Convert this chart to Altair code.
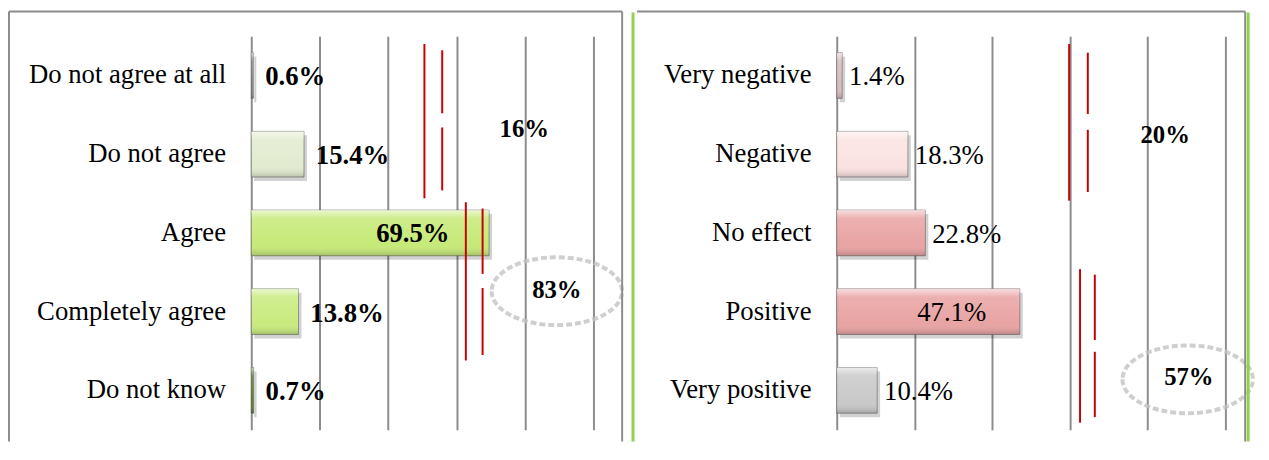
import altair as alt
import pandas as pd

# ---------------- data ----------------
left_cats = ["Do not agree at all", "Do not agree", "Agree", "Completely agree", "Do not know"]
left_vals = [0.6, 15.4, 69.5, 13.8, 0.7]
left_colors = ["#8e8e8e", "#e2ebcf", "#c6ea78", "#c8eb7e", "#5e7d2c"]

right_cats = ["Very negative", "Negative", "No effect", "Positive", "Very positive"]
right_vals = [1.4, 18.3, 22.8, 47.1, 10.4]
right_colors = ["#d8bcbc", "#fbe2e2", "#e9a3a3", "#e9a3a3", "#c9c9c9"]

grid_ticks = [0, 20, 40, 60, 80, 100]

# bracket annotations: x in %, y in row units (row 1 = first category)
left_br_x = [50.6, 55.8, 55.8, 62.7, 67.6, 67.6]
left_br_y1 = [0.60, 0.68, 1.66, 2.61, 2.69, 3.70]
left_br_y2 = [2.56, 1.48, 2.46, 4.62, 3.52, 4.55]
left_tot_text = ["16%", "83%"]
left_tot_x = [79.8, 89.3]
left_tot_y = [1.68, 3.72]
left_ring_x = [89.3]
left_ring_y = [3.74]

right_br_x = [59.8, 64.6, 64.6, 62.6, 66.4, 66.4]
right_br_y1 = [0.60, 0.71, 1.69, 3.46, 3.53, 4.51]
right_br_y2 = [2.59, 1.49, 2.48, 5.41, 4.36, 5.34]
right_tot_text = ["20%", "57%"]
right_tot_x = [84.5, 90.6]
right_tot_y = [1.76, 4.83]
right_ring_x = [90.3]
right_ring_y = [4.86]

FONT = "Liberation Serif"
GRID = "#8c8c8c"
RED = "#c80000"
GREEN = "#92d050"
ELLIPSE = "M-1,0A1,0.52,0,1,0,1,0A1,0.52,0,1,0,-1,0"


def frame_rule(color, width, **enc):
    return alt.Chart(alt.Data(values=[{}])).mark_rule(color=color, strokeWidth=width).encode(**enc)


def panel(cats, vals, colors, weight, in_dx, out_dx, br_x, br_y1, br_y2,
          tot_text, tot_x, tot_y, ring_x, ring_y, frames, w, h):
    df = pd.DataFrame({"cat": cats, "val": vals})
    xsc = alt.Scale(domain=[0, 100], nice=False, zero=True)
    xax = alt.Axis(values=grid_ticks, grid=True, gridColor=GRID, gridWidth=2,
                   labels=False, ticks=False, domain=False, title=None)
    ysc = alt.Scale(domain=cats, paddingInner=0.42, paddingOuter=0.21)
    yax = alt.Axis(title=None, ticks=False, domain=False, grid=False,
                   labelFont=FONT, labelFontSize=27, labelColor="black",
                   labelPadding=26, labelLimit=400)
    X = alt.X("val:Q", scale=xsc, axis=xax)
    Y = alt.Y("cat:N", scale=ysc, axis=yax, sort=None)
    base = alt.Chart(df)

    shadow = base.mark_bar(color="black", opacity=0.18, xOffset=3, x2Offset=3,
                           yOffset=4, y2Offset=4).encode(x=X, y=Y)
    bars = base.mark_bar(stroke="#555555", strokeWidth=1, strokeOpacity=0.55).encode(
        x=X, y=Y,
        color=alt.Color("cat:N", scale=alt.Scale(domain=cats, range=colors), legend=None))
    gloss = base.mark_bar(color=alt.Gradient(
        gradient="linear", x1=0, x2=0, y1=0, y2=1,
        stops=[alt.GradientStop(color="rgba(255,255,255,0.65)", offset=0),
               alt.GradientStop(color="rgba(255,255,255,0.15)", offset=0.18),
               alt.GradientStop(color="rgba(255,255,255,0)", offset=0.75),
               alt.GradientStop(color="rgba(0,0,0,0.18)", offset=1)])).encode(x=X, y=Y)
    lab = "format(datum.val, '.1f') + '%'"
    txt_out = base.transform_filter("datum.val < 40").transform_calculate(lab=lab).mark_text(
        align="left", baseline="middle", dx=out_dx, dy=2, font=FONT, fontSize=27,
        fontWeight=weight, color="black").encode(x=X, y=Y, text="lab:N")
    txt_in = base.transform_filter("datum.val >= 40").transform_calculate(lab=lab).mark_text(
        align="right", baseline="middle", dx=in_dx, dy=1, font=FONT, fontSize=27,
        fontWeight=weight, color="black").encode(x=X, y=Y, text="lab:N")
    inner = alt.layer(shadow, bars, gloss, txt_out, txt_in)

    ysc_n = alt.Scale(domain=[0.5, 5.5], reverse=True, nice=False, zero=False)
    br = pd.DataFrame({"bx": br_x, "y1": br_y1, "y2": br_y2})
    rules = alt.Chart(br).mark_rule(color=RED, strokeWidth=2).encode(
        x=alt.X("bx:Q", scale=xsc, axis=xax),
        y=alt.Y("y1:Q", scale=ysc_n, axis=None), y2="y2:Q")
    ring = alt.Chart(pd.DataFrame({"rx": ring_x, "ry": ring_y})).mark_point(
        shape=ELLIPSE, size=132 * 132, filled=False, stroke="#c4c4c4", strokeWidth=4,
        strokeDash=[6, 3], opacity=0.8).encode(
        x=alt.X("rx:Q", scale=xsc, axis=xax),
        y=alt.Y("ry:Q", scale=ysc_n, axis=None))
    tot = alt.Chart(pd.DataFrame({"t": tot_text, "tx": tot_x, "ty": tot_y})).mark_text(
        font=FONT, fontSize=25, fontWeight="bold", color="black", baseline="middle").encode(
        x=alt.X("tx:Q", scale=xsc, axis=xax),
        y=alt.Y("ty:Q", scale=ysc_n, axis=None), text="t:N")
    ann = alt.layer(ring, rules, tot)

    return alt.layer(inner, ann, *frames).resolve_scale(y="independent").properties(width=w, height=h)


left_frames = [
    frame_rule(GRID, 2, x=alt.value(-245), y=alt.value(-25), y2=alt.value(410)),
    frame_rule(GRID, 2, x=alt.value(375), y=alt.value(-25), y2=alt.value(410)),
    frame_rule(GRID, 2, x=alt.value(-245), x2=alt.value(375), y=alt.value(-25)),
    frame_rule(GREEN, 3, x=alt.value(386), y=alt.value(-24), y2=alt.value(410)),
]
right_frames = [
    frame_rule(GRID, 2, x=alt.value(-202), x2=alt.value(413), y=alt.value(-25)),
    frame_rule(GRID, 2, x=alt.value(413), y=alt.value(-25), y2=alt.value(410)),
    frame_rule(GREEN, 3, x=alt.value(416), y=alt.value(-24), y2=alt.value(410)),
]

left = panel(left_cats, left_vals, left_colors, "bold", -40, 12,
             left_br_x, left_br_y1, left_br_y2, left_tot_text, left_tot_x, left_tot_y,
             left_ring_x, left_ring_y, left_frames, 346, 398)
right = panel(right_cats, right_vals, right_colors, "normal", -34, 7,
              right_br_x, right_br_y1, right_br_y2, right_tot_text, right_tot_x, right_tot_y,
              right_ring_x, right_ring_y, right_frames, 393, 398)

chart = alt.hconcat(left, right, spacing=246, bounds="flush").resolve_scale(
    x="independent", y="independent", color="independent"
).configure_view(stroke=None).properties(padding=0, background="white")

chart.save("out.html", embed_options={"renderer": "svg", "actions": False})
